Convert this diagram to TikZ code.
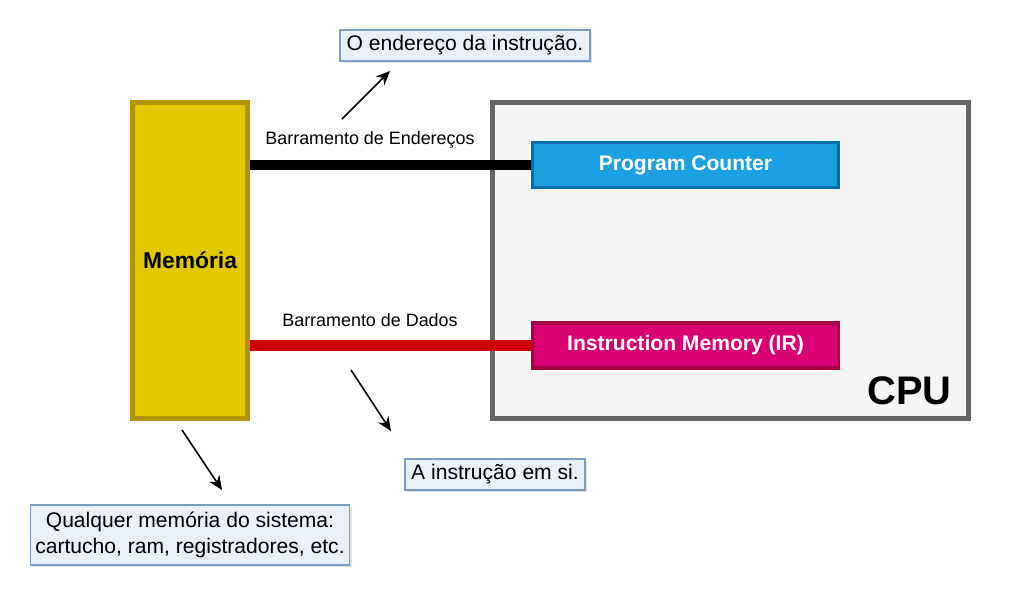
\documentclass[tikz,border=0pt]{standalone}
\usepackage{fontspec}
\setmainfont{Liberation Sans}
\usetikzlibrary{arrows.meta,shadows}

\definecolor{memfill}{HTML}{E3C800}
\definecolor{memline}{HTML}{B09500}
\definecolor{cpufill}{HTML}{F5F5F5}
\definecolor{cpuline}{HTML}{666666}
\definecolor{pcfill}{HTML}{1BA1E2}
\definecolor{pcline}{HTML}{006EAF}
\definecolor{irfill}{HTML}{D80073}
\definecolor{irline}{HTML}{A50040}
\definecolor{busred}{HTML}{CC0000}
\definecolor{notefill}{HTML}{EAF0FA}
\definecolor{noteline}{HTML}{7C9CC8}

\tikzset{
  block/.style={draw, rectangle, inner sep=0pt, font=\fontsize{12}{14}\selectfont\bfseries},
  reg/.style={block, line width=2.1pt, minimum width=6.12cm, minimum height=0.9cm, text=white},
  note/.style={draw=noteline, fill=notefill, rectangle, line width=0.6pt, inner sep=0pt,
    align=center, font=\fontsize{12}{14.5}\selectfont,
    drop shadow={shadow xshift=1.2pt, shadow yshift=-1.2pt, opacity=0.25}},
  buslabel/.style={inner sep=0pt, font=\fontsize{10.2}{12}\selectfont},
  bus/.style={line width=5.7pt},
  pointer/.style={-{Stealth[length=8pt,width=7pt]}, line width=0.9pt}
}

\begin{document}
\begin{tikzpicture}[x=0.02cm,y=-0.02cm]
\useasboundingbox (0,0) rectangle (1009,602);

% memoria e cpu
\node [block, fill=memfill, draw=memline, line width=2.8pt, minimum width=2.3cm,
  minimum height=6.32cm, font=\fontsize{13}{15}\selectfont\bfseries] (mem) at (190,260.5) {Memória};
\node [block, fill=cpufill, draw=cpuline, line width=2.8pt, minimum width=9.52cm,
  minimum height=6.32cm,
  drop shadow={shadow xshift=1.5pt, shadow yshift=-1.5pt, opacity=0.3}] (cpu) at (730.5,260.5) {};
\node [anchor=base east, inner sep=0pt, font=\fontsize{22.7}{26}\selectfont\bfseries] (cputxt) at (952,404) {CPU};

% registradores
\node [reg, fill=pcfill, draw=pcline] (pc) at (685.5,165) {Program Counter};
\node [reg, fill=irfill, draw=irline] (ir) at (685.5,345.5) {Instruction Memory (IR)};

% barramentos
\draw [bus, black] (pc.west) -- (pc.west -| mem.east);
\draw [bus, busred] (ir.west) -- (ir.west -| mem.east);
\node [buslabel] (lend) at (370,140) {Barramento de Endereços};
\node [buslabel] (ldad) at (370,320) {Barramento de Dados};

% notas
\node [note, minimum width=5.0cm, minimum height=0.62cm] (nend) at (465,45.5) {O endereço da instrução.};
\node [note, minimum width=3.6cm, minimum height=0.62cm] (ndad) at (495,474.5) {A instrução em si.};
\node [note, minimum width=6.4cm, minimum height=1.2cm] (nmem) at (190,535)
  {Qualquer memória do sistema:\\cartucho, ram, registradores, etc.};

% setas
\coordinate (a1) at (342,119);
\coordinate (b1) at (390,71);
\coordinate (a2) at (351,370);
\coordinate (b2) at (391,431);
\coordinate (a3) at (182,430);
\coordinate (b3) at (222,490);
\draw [pointer] (a1) -- (b1);
\draw [pointer] (a2) -- (b2);
\draw [pointer] (a3) -- (b3);
\end{tikzpicture}
\end{document}
